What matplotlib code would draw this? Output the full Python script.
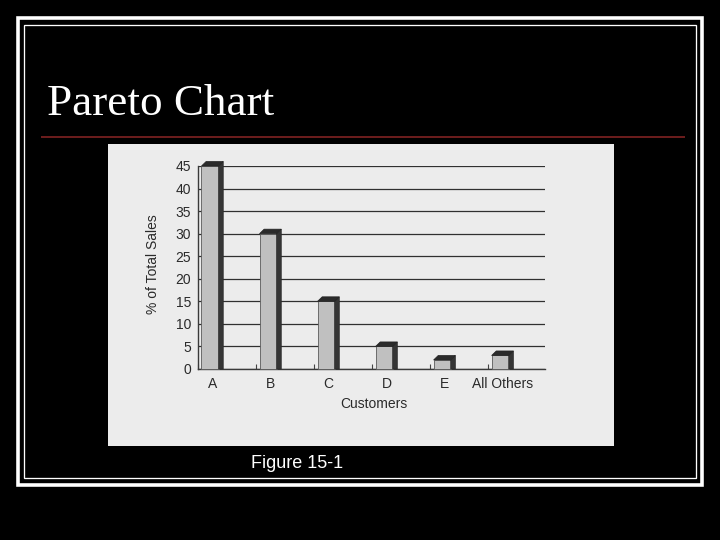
import matplotlib
matplotlib.use('Agg')
import matplotlib.pyplot as plt
import numpy as np
from matplotlib.patches import Rectangle, Polygon
from matplotlib.lines import Line2D

# ---- data ----
categories = ['A', 'B', 'C', 'D', 'E', 'All Others']
pct_total_sales = [45, 30, 15, 5, 2, 3]
y_ticks = [0, 5, 10, 15, 20, 25, 30, 35, 40, 45]
title_text = 'Pareto Chart'
caption_text = 'Figure 15-1'
x_label = 'Customers'
y_label = '% of Total Sales'

W, H = 720, 540
fig = plt.figure(figsize=(7.2, 5.4), dpi=100, facecolor='black')


def fx(px):
    return px / W


def fy(py):
    return 1 - py / H


def rect_px(x0, y0, x1, y1, **kw):
    return Rectangle((fx(x0), fy(y1)), fx(x1) - fx(x0), fy(y0) - fy(y1),
                     transform=fig.transFigure, **kw)


# slide borders
fig.patches.append(rect_px(17.7, 17.7, 702, 485.3, fill=False, ec='white', lw=3.6 * 0.72, zorder=-2))
fig.patches.append(rect_px(24.5, 24.5, 695.5, 477.8, fill=False, ec='white', lw=1.3 * 0.72, zorder=-2))

# title and red rule
fig.text(fx(47), fy(115), title_text, color='white', family='Liberation Serif',
         fontsize=32.5, ha='left', va='baseline')
fig.lines.append(Line2D([fx(42), fx(684)], [fy(136.5), fy(136.5)], transform=fig.transFigure,
                        color='#6a1c1c', lw=2.0 * 0.72, zorder=-2))

# scanned chart panel
fig.patches.append(rect_px(108, 144, 614, 446, fc='#ececec', ec='none', zorder=-1))

# caption
fig.text(fx(297), fy(468), caption_text, color='white', family='Liberation Sans',
         fontsize=13, ha='center', va='baseline')

# inner chart axes
ax = fig.add_axes([fx(198), fy(369), fx(545) - fx(198), fy(166) - fy(369)])
ax.set_zorder(1)
ax.set_facecolor('none')
x = np.arange(len(categories))
ax.set_xlim(-0.25, 5.73)
ax.set_ylim(0, 45)

front_w = 0.295
front_off = -0.19
dx, dy = 0.08, 1.0
ax.bar(x + front_off, pct_total_sales, width=front_w, align='edge', color='#c0c0c0',
       edgecolor='#5a5a5a', lw=0.6, zorder=3, clip_on=False)
for xi, v in zip(x, pct_total_sales):
    xl = xi + front_off
    xr = xl + front_w
    side = Polygon([(xr, 0), (xr + dx, 0), (xr + dx, v + dy), (xr, v)], closed=True,
                   fc='#353535', ec='#2a2a2a', lw=0.5, zorder=3, clip_on=False)
    top = Polygon([(xl, v), (xr, v), (xr + dx, v + dy), (xl + dx, v + dy)], closed=True,
                  fc='#2b2b2b', ec='#222222', lw=0.5, zorder=4, clip_on=False)
    ax.add_patch(side)
    ax.add_patch(top)

ax.set_yticks(y_ticks)
ax.set_yticklabels([str(t) for t in y_ticks])
ax.set_xticks(x)
ax.set_xticklabels(categories)
ax.set_xticks(x - 0.25, minor=True)
ax.tick_params(axis='both', which='major', length=0, labelsize=10, labelcolor='#2a2a2a')
ax.tick_params(axis='y', pad=5)
ax.tick_params(axis='x', pad=6)
ax.tick_params(axis='x', which='minor', direction='in', length=3.5, color='#444444', width=0.8)
for lab in ax.get_xticklabels() + ax.get_yticklabels():
    lab.set_family('Liberation Sans')

ax.yaxis.grid(True, color='#303030', lw=0.9, zorder=1)
ax.set_axisbelow(True)
for s in ['top', 'right']:
    ax.spines[s].set_visible(False)
for s in ['left', 'bottom']:
    ax.spines[s].set_color('#3a3a3a')
    ax.spines[s].set_linewidth(1.0)

fig.text(fx(374), fy(404), x_label, color='#2a2a2a', family='Liberation Sans',
         fontsize=10, ha='center', va='center')
fig.text(fx(153), fy(264), y_label, color='#2a2a2a', family='Liberation Sans',
         fontsize=10, ha='center', va='center', rotation=90)

fig.savefig('out.png', dpi=100, facecolor='black')
